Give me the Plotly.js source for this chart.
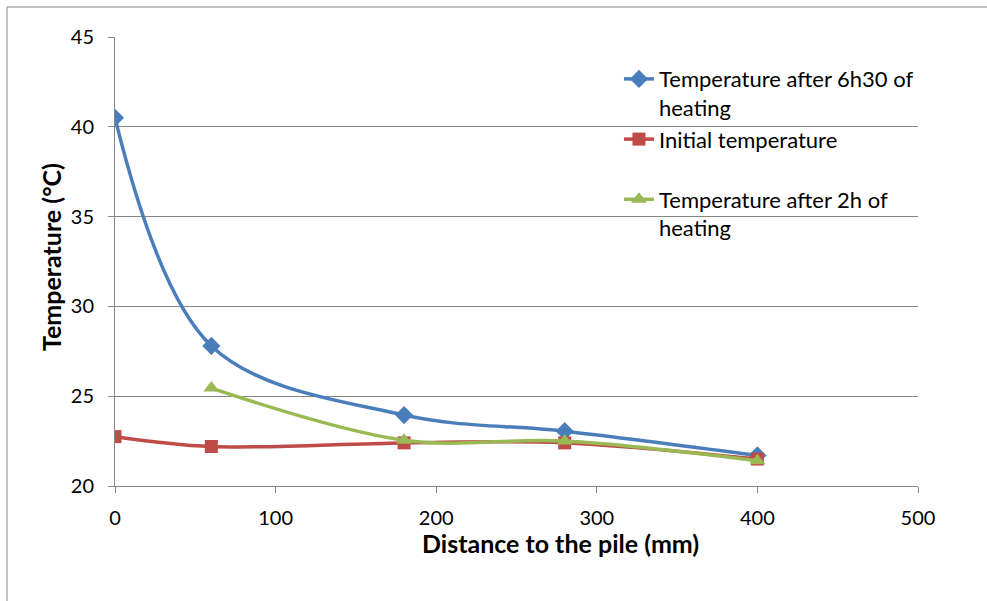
<!DOCTYPE html>
<html><head><meta charset="utf-8">
<script src="https://cdn.plot.ly/plotly-3.0.1.min.js"></script>
<style>body{margin:0;padding:0;background:#fff;} #chart{width:987px;height:601px;}</style>
</head><body><div id="chart"></div>
<script>
const distance = [0, 60, 180, 280, 400];
const temp6h30 = [40.5, 27.8, 23.95, 23.05, 21.7];
const tempInitial = [22.75, 22.2, 22.4, 22.4, 21.5];
const distance2h = [60, 180, 280, 400];
const temp2h = [25.45, 22.55, 22.5, 21.4];
const seriesNames = ["Temperature after 6h30 of<br>heating", "Initial temperature<br>\u00a0", "Temperature after 2h of<br>heating"];

const font = "Lato, 'Open Sans', sans-serif";
const traces = [
  {x: distance, y: temp6h30, name: seriesNames[0], mode: 'lines+markers', line:{color:'#4A7EBB', width:3.5, shape:'spline', smoothing:1}, marker:{symbol:'diamond', size:14, color:'#4A7EBB'}},
  {x: distance, y: tempInitial, name: seriesNames[1], mode: 'lines+markers', line:{color:'#BE4B48', width:3.5, shape:'spline', smoothing:1}, marker:{symbol:'square', size:13, color:'#BE4B48'}},
  {x: distance2h, y: temp2h, name: seriesNames[2], mode: 'lines+markers', line:{color:'#98B954', width:3.5, shape:'spline', smoothing:1}, marker:{symbol:'triangle-up', size:14, color:'#98B954'}}
];
const layout = {
  width: 987, height: 601,
  margin: {l:115, r:69, t:37, b:115},
  paper_bgcolor:'rgba(0,0,0,0)', plot_bgcolor:'rgba(0,0,0,0)',
  font: {family: font, size: 20, color:'#000'},
  showlegend: true,
  legend: {x: 0.6276, y: 0.953, xanchor:'left', yanchor:'top', valign:'top', bgcolor:'rgba(0,0,0,0)', font:{family:font, size:22, color:'#000'}, tracegroupgap: 0},
  xaxis: {range:[0,500], tickvals:[0,100,200,300,400,500], showgrid:false, zeroline:false, showline:true, linecolor:'#868686', linewidth:1, ticks:'outside', ticklen:6, tickcolor:'#868686', ticklabelstandoff:8, tickfont:{family:font, size:20}},
  yaxis: {range:[20,45], tickvals:[20,25,30,35,40,45], showgrid:true, gridcolor:'#868686', gridwidth:1, zeroline:false, showline:true, linecolor:'#868686', linewidth:1, ticks:'outside', ticklen:6, tickcolor:'#868686', ticklabelstandoff:10, tickfont:{family:font, size:20}},
  annotations: [
    {text:'<b>Distance to the pile (mm)</b>', xref:'paper', yref:'paper', x:(560-115)/803, y:(486-543)/449, xanchor:'center', yanchor:'middle', showarrow:false, font:{family:font, size:25}},
    {text:'<b>Temperature (°C)</b>', xref:'paper', yref:'paper', x:(51-115)/803, y:(486-257)/449, xanchor:'center', yanchor:'middle', textangle:-90, showarrow:false, font:{family:font, size:25}}
  ],
  shapes: [
    {type:'rect', xref:'paper', yref:'paper', x0:(7-115)/803, x1:(1000-115)/803, y0:(486-620)/449, y1:(486-7)/449, line:{color:'#868686', width:1}, fillcolor:'rgba(0,0,0,0)', layer:'below'}
  ]
};
Plotly.newPlot('chart', traces, layout, {displayModeBar:false, staticPlot:true});
</script></body></html>
